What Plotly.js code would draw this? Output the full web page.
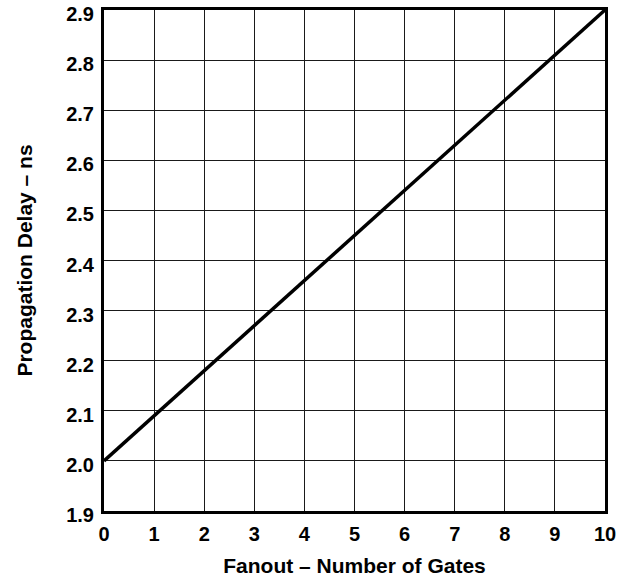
<!DOCTYPE html>
<html><head><meta charset="utf-8">
<script src="https://cdn.plot.ly/plotly-3.0.1.min.js"></script>
<style>body{margin:0;padding:0;background:#fff}#c{width:618px;height:578px}</style>
</head><body><div id="c"></div>
<script>
const fanout = [0, 10];
const delayNs = [2.0, 2.9];
const xTicks = [0,1,2,3,4,5,6,7,8,9,10];
const yTicks = [1.9,2.0,2.1,2.2,2.3,2.4,2.5,2.6,2.7,2.8,2.9];
const xTitle = 'Fanout – Number of Gates';
const yTitle = 'Propagation Delay – ns';

const fam = '"Liberation Sans", Arial, Helvetica, sans-serif';
Plotly.newPlot('c', [{
  x: fanout, y: delayNs, mode: 'lines', type: 'scatter',
  line: {color: '#000', width: 3.5}, hoverinfo: 'skip'
}], {
  width: 618, height: 578,
  margin: {l: 104, r: 13, t: 10, b: 67},
  paper_bgcolor: '#fff', plot_bgcolor: '#fff',
  showlegend: false,
  font: {family: fam, color: '#000'},
  xaxis: {
    range: [0, 10], tickvals: xTicks, ticktext: xTicks.map(String),
    showgrid: true, gridcolor: '#1a1a1a', gridwidth: 1,
    zeroline: false, showline: true, linecolor: '#000', linewidth: 3, mirror: true,
    ticks: '', ticklabelstandoff: 3, ticklabeloverflow: 'allow',
    tickfont: {size: 20, family: fam, weight: 'bold', color: '#000'},
    title: {text: '<b>' + xTitle + '</b>', font: {size: 21, family: fam, color: '#000'}, standoff: 15}
  },
  yaxis: {
    range: [1.9, 2.9], tickvals: yTicks, ticktext: yTicks.map(v => v.toFixed(1)),
    showgrid: true, gridcolor: '#1a1a1a', gridwidth: 1,
    zeroline: false, showline: true, linecolor: '#000', linewidth: 3, mirror: true,
    ticks: '', ticklabelstandoff: 3, ticklabelshift: 4, ticklabeloverflow: 'allow',
    tickfont: {size: 20, family: fam, weight: 'bold', color: '#000'},
    title: {text: '<b>' + yTitle + '</b>', font: {size: 21, family: fam, color: '#000'}, standoff: 28}
  }
}, {staticPlot: true, displayModeBar: false});
</script>
</body></html>
